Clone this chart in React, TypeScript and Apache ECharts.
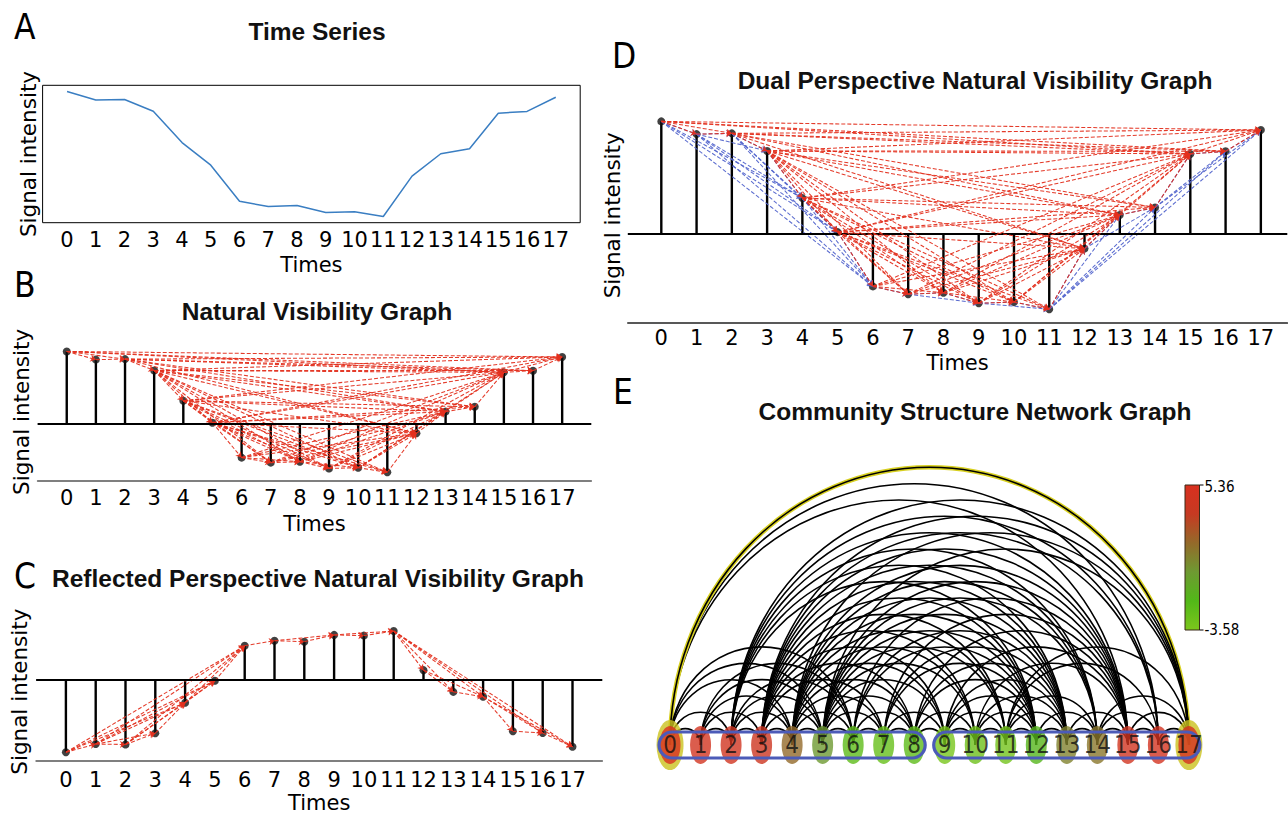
import React, { useEffect, useRef } from 'react';
import * as echarts from 'echarts';

// ---------- data ----------
const times = [0, 1, 2, 3, 4, 5, 6, 7, 8, 9, 10, 11, 12, 13, 14, 15, 16, 17];
const signal = [3.01, 2.67, 2.69, 2.22, 0.96, 0.05, -1.4, -1.61, -1.57, -1.85, -1.82, -2.01, -0.39, 0.51, 0.71, 2.14, 2.21, 2.78];
const nodeValues = [5.36, 4.7, 4.6, 4.2, 1.8, 0.0, -2.3, -2.7, -2.3, -3.4, -3.0, -3.2, -1.6, 0.9, 1.3, 4.6, 4.8, 5.0];
const communities = [[0, 8], [9, 17]];
const highlightNodes = [0, 17];
const highlightEdges = [[0, 17]];
const colorRange = [-3.58, 5.36];
const colorScale = ['#7cc61c', '#52b818', '#6e9a32', '#946a2a', '#c63a22', '#d9301f'];
const panelLetters = ['A', 'B', 'C', 'D', 'E'];
const panelTitles = [
  'Time Series',
  'Natural Visibility Graph',
  'Reflected Perspective Natural Visibility Graph',
  'Dual Perspective Natural Visibility Graph',
  'Community Structure Network Graph',
];
const xName = 'Times';
const yName = 'Signal intensity';

// reflected perspective = the same series seen from below
const reflected = signal.map((v) => -v);

function visibilityEdges(ys: number[]): number[][] {
  const out: number[][] = [];
  for (let i = 0; i < ys.length; i++) {
    for (let j = i + 1; j < ys.length; j++) {
      let ok = true;
      for (let k = i + 1; k < j; k++) {
        const lim = ys[j] + ((ys[i] - ys[j]) * (j - k)) / (j - i);
        if (ys[k] >= lim) { ok = false; break; }
      }
      if (ok) out.push([i, j]);
    }
  }
  return out;
}

const edgesNVG = visibilityEdges(signal);
const edgesRNVG = visibilityEdges(reflected);
const dualEdges: number[][] = (() => {
  const seen = new Set<string>();
  const out: number[][] = [];
  [...edgesNVG, ...edgesRNVG].forEach(([a, b]) => {
    const k = a + '-' + b;
    if (!seen.has(k)) { seen.add(k); out.push([a, b]); }
  });
  return out;
})();

// ---------- styling ----------
const FONT_AX = "'DejaVu Sans', sans-serif";
const FONT_TITLE = "'Liberation Sans', Arial, sans-serif";
const FONT_NARROW = "'Liberation Sans Narrow', 'DejaVu Sans Condensed', 'Liberation Sans', sans-serif";
const RED = '#e3301f';
const BLUE = '#5264cc';

function xAx(gridIndex: number, min: number, max: number, margin: number, nameGap: number, line: boolean, lineColor: string) {
  return {
    type: 'value', gridIndex, min, max,
    axisLine: { show: line, onZero: false, lineStyle: { color: lineColor, width: 1.6 } },
    axisTick: { show: false },
    splitLine: { show: false },
    axisLabel: {
      show: true, customValues: times, formatter: (v: number) => String(v),
      fontSize: 21, color: '#000', fontFamily: FONT_AX, margin,
    },
    name: xName, nameLocation: 'middle', nameGap,
    nameTextStyle: { fontSize: 21, color: '#000', fontFamily: FONT_AX },
  };
}
function yAx(gridIndex: number, min: number, max: number, nameGap: number) {
  return {
    type: 'value', gridIndex, min, max,
    axisLine: { show: false }, axisTick: { show: false }, axisLabel: { show: false }, splitLine: { show: false },
    name: yName, nameLocation: 'middle', nameRotate: 90, nameGap,
    nameTextStyle: { fontSize: 21.5, color: '#000', fontFamily: FONT_AX },
  };
}

function stemSeries(axisIndex: number, ys: number[]) {
  const pts = times.map((t, i) => [t, ys[i]]);
  return [
    {
      type: 'bar', xAxisIndex: axisIndex, yAxisIndex: axisIndex, data: pts, barWidth: 2.4,
      itemStyle: { color: '#000' }, z: 2, silent: true,
      markLine: {
        silent: true, symbol: ['none', 'none'], label: { show: false },
        lineStyle: { color: '#000', width: 1.8, type: 'solid' }, data: [{ yAxis: 0 }],
      },
    },
    {
      type: 'scatter', xAxisIndex: axisIndex, yAxisIndex: axisIndex, data: pts, symbolSize: 8,
      itemStyle: { color: '#111' }, z: 3, silent: true,
    },
  ];
}
function edgeSeries(axisIndex: number, ys: number[], edges: number[][], color: string, z: number) {
  return {
    type: 'lines', coordinateSystem: 'cartesian2d', xAxisIndex: axisIndex, yAxisIndex: axisIndex,
    data: edges.map(([i, j]) => ({ coords: [[times[i], ys[i]], [times[j], ys[j]]] })),
    lineStyle: { color, width: 1.05, type: [4, 2], opacity: 0.95, curveness: 0 },
    symbol: ['none', 'arrow'], symbolSize: 5.5, z, silent: true,
  };
}

function arcPath(p1: number[], p2: number[]) {
  const rx = (p2[0] - p1[0]) / 2;
  const ry = rx * 1.07;
  return `M${p1[0]} ${p1[1]} A${rx} ${ry} 0 0 1 ${p2[0]} ${p2[1]}`;
}

function buildOption() {
  const series: any[] = [];
  // A
  series.push({
    type: 'line', xAxisIndex: 0, yAxisIndex: 0, data: times.map((t, i) => [t, signal[i]]),
    symbol: 'none', lineStyle: { color: '#3a7ec2', width: 1.5 }, silent: true,
  });
  // B
  series.push(...stemSeries(1, signal));
  series.push(edgeSeries(1, signal, edgesNVG, RED, 4));
  // C
  series.push(...stemSeries(2, reflected));
  series.push(edgeSeries(2, reflected, edgesRNVG, RED, 4));
  // D
  series.push(...stemSeries(3, signal));
  series.push(edgeSeries(3, signal, edgesRNVG, BLUE, 4));
  series.push(edgeSeries(3, signal, edgesNVG, RED, 5));
  // E arcs
  series.push({
    type: 'custom', xAxisIndex: 4, yAxisIndex: 4, z: 1, silent: true,
    data: dualEdges,
    renderItem: (_p: any, api: any) => {
      const a = api.value(0), b = api.value(1);
      const p1 = api.coord([a, 0]);
      const p2 = api.coord([b, 0]);
      const d = arcPath(p1, p2);
      const hl = highlightEdges.some(([x, y]) => x === a && y === b);
      const children: any[] = [];
      if (hl) children.push({ type: 'path', shape: { pathData: d }, style: { stroke: '#d8d020', lineWidth: 4.5, fill: 'none' } });
      children.push({ type: 'path', shape: { pathData: d }, style: { stroke: '#000', lineWidth: 1.6, fill: 'none' } });
      return { type: 'group', children };
    },
  });
  // highlight rings
  series.push({
    type: 'scatter', xAxisIndex: 4, yAxisIndex: 4, z: 2, silent: true,
    data: highlightNodes.map((i) => [times[i], 0]),
    symbol: 'circle', symbolSize: [27, 50], itemStyle: { color: '#cbc21e' },
  });
  // nodes
  const nodeSeriesIndex = series.length;
  series.push({
    type: 'scatter', xAxisIndex: 4, yAxisIndex: 4, z: 3, silent: true,
    data: times.map((t, i) => [t, 0, nodeValues[i]]),
    symbol: 'circle', symbolSize: [21, 38],
  });
  // communities
  series.push({
    type: 'custom', xAxisIndex: 4, yAxisIndex: 4, z: 4, silent: true,
    data: communities,
    renderItem: (_p: any, api: any) => {
      const p1 = api.coord([api.value(0), 0]);
      const p2 = api.coord([api.value(1), 0]);
      return {
        type: 'rect',
        shape: { x: p1[0] - 11, y: p1[1] - 13, width: p2[0] - p1[0] + 22, height: 26, r: 13 },
        style: { stroke: '#4c5bb8', lineWidth: 3.2, fill: 'none' },
      };
    },
  });
  // node labels
  series.push({
    type: 'scatter', xAxisIndex: 4, yAxisIndex: 4, z: 6, silent: true,
    data: times.map((t) => [t, 0]), symbolSize: 2, itemStyle: { color: 'rgba(0,0,0,0)' },
    label: {
      show: true, position: 'inside', formatter: (p: any) => String(p.data[0]),
      fontSize: 24, fontFamily: FONT_NARROW, color: '#111',
    },
  });

  const graphic: any[] = [];
  const titlePos = [[317, 31], [317, 311], [318, 578], [975, 80], [975, 411]];
  panelTitles.forEach((t, i) => {
    graphic.push({
      type: 'text', x: titlePos[i][0], y: titlePos[i][1], silent: true,
      style: { text: t, fontSize: 24.5, fontWeight: 'bold', fontFamily: FONT_TITLE, fill: '#111', align: 'center', verticalAlign: 'middle', textAlign: 'center', textVerticalAlign: 'middle' },
    });
  });
  const letterPos = [[14, 27], [14, 285], [14, 576], [612, 56], [613, 392]];
  panelLetters.forEach((t, i) => {
    graphic.push({
      type: 'text', x: letterPos[i][0], y: letterPos[i][1], silent: true,
      style: { text: t, fontSize: 35, fontFamily: FONT_NARROW, fill: '#000', align: 'left', verticalAlign: 'middle', textAlign: 'left', textVerticalAlign: 'middle' },
    });
  });
  // colorbar
  const cb = { x: 1185, y: 485, w: 14.5, h: 145 };
  const stops = colorScale
    .map((c, i) => ({ offset: 1 - i / (colorScale.length - 1), color: c }))
    .sort((a, b) => a.offset - b.offset);
  graphic.push({
    type: 'rect', silent: true, shape: { x: cb.x, y: cb.y, width: cb.w, height: cb.h },
    style: { fill: new echarts.graphic.LinearGradient(0, 0, 0, 1, stops), stroke: '#3a2a18', lineWidth: 1 },
  });
  graphic.push({ type: 'line', silent: true, shape: { x1: cb.x + cb.w, y1: cb.y, x2: cb.x + cb.w + 4, y2: cb.y }, style: { stroke: '#000', lineWidth: 1 } });
  graphic.push({ type: 'line', silent: true, shape: { x1: cb.x + cb.w, y1: cb.y + cb.h, x2: cb.x + cb.w + 4, y2: cb.y + cb.h }, style: { stroke: '#000', lineWidth: 1 } });
  graphic.push({
    type: 'text', x: cb.x + cb.w + 5, y: cb.y + 2, silent: true,
    style: { text: colorRange[1].toFixed(2), fontSize: 15, fontFamily: FONT_NARROW, fill: '#000', align: 'left', verticalAlign: 'middle', textAlign: 'left', textVerticalAlign: 'middle' },
  });
  graphic.push({
    type: 'text', x: cb.x + cb.w + 5, y: cb.y + cb.h, silent: true,
    style: { text: colorRange[0].toFixed(2), fontSize: 15, fontFamily: FONT_NARROW, fill: '#000', align: 'left', verticalAlign: 'middle', textAlign: 'left', textVerticalAlign: 'middle' },
  });

  return {
    animation: false,
    backgroundColor: '#fff',
    grid: [
      { left: 42.6, top: 85.3, width: 537.6, height: 137.4, show: true, borderColor: '#000', borderWidth: 1, backgroundColor: 'transparent', outerBoundsMode: 'none' },
      { left: 37.6, top: 343, width: 553.7, height: 137.7, outerBoundsMode: 'none' },
      { left: 36.1, top: 622.6, width: 566.2, height: 138.1, outerBoundsMode: 'none' },
      { left: 627.8, top: 108.3, width: 659.5, height: 214, outerBoundsMode: 'none' },
      { left: 639.5, top: 700, width: 579.9, height: 90, outerBoundsMode: 'none' },
    ],
    xAxis: [
      xAx(0, -0.85, 17.85, 7, 32, false, '#000'),
      xAx(1, -1, 18, 7, 33, true, '#555'),
      xAx(2, -1, 18, 8.8, 32, true, '#555'),
      xAx(3, -0.95, 17.75, 5.5, 30.5, true, '#222'),
      { type: 'value', gridIndex: 4, min: -1, max: 18, show: false },
    ],
    yAxis: [
      yAx(0, -2.26, 3.26, 3.4),
      yAx(1, -2.36, 3.36, 4.8),
      yAx(2, -3.36, 2.36, 5.3),
      yAx(3, -2.36, 3.36, 4.4),
      { type: 'value', gridIndex: 4, min: -1, max: 1, show: false },
    ],
    visualMap: {
      type: 'continuous', show: false, min: colorRange[0], max: colorRange[1], dimension: 2,
      seriesIndex: [nodeSeriesIndex], inRange: { color: colorScale },
    },
    graphic,
    series,
  };
}

export default function App() {
  const ref = useRef<HTMLDivElement>(null);
  useEffect(() => {
    if (!ref.current) return;
    const chart = echarts.init(ref.current, undefined, { renderer: 'svg' });
    chart.setOption(buildOption() as any);
    return () => chart.dispose();
  }, []);
  return <div ref={ref} style={{ position: 'absolute', left: 0, top: 0, width: 1288, height: 815, background: '#fff' }} />;
}
